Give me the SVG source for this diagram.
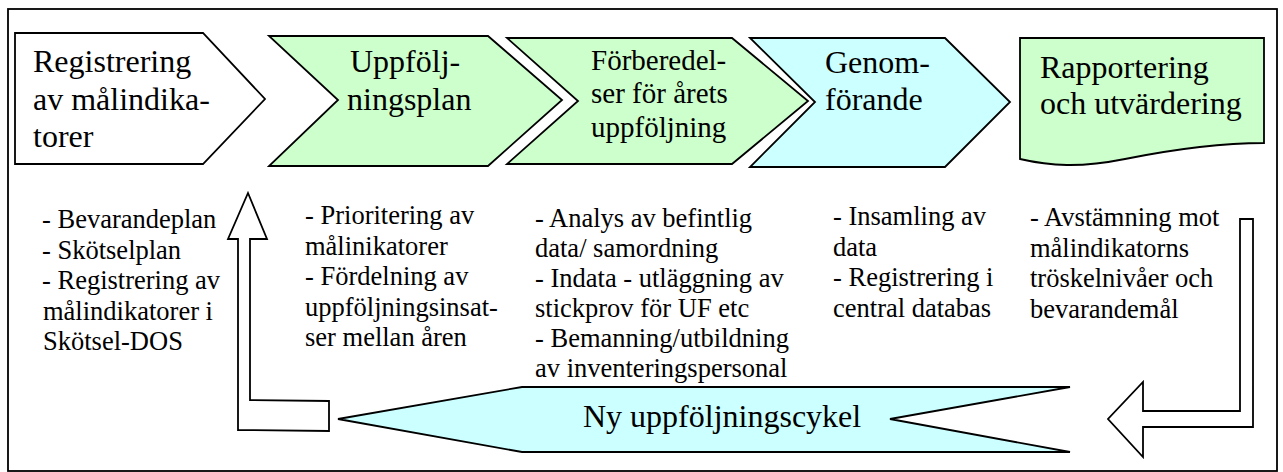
<svg xmlns="http://www.w3.org/2000/svg" width="1283" height="472" viewBox="0 0 1283 472">
<style>
.sh{stroke:#000;stroke-width:1.8;stroke-linejoin:miter}
.w{fill:#fff}.g{fill:#CCFFCC}.c{fill:#CCFFFF}
text{font-family:"Liberation Serif","Times New Roman",serif;fill:#000}
.t32{font-size:32px}.t29{font-size:29px}.t26{font-size:26.5px}
</style>
<rect x="8" y="9" width="1269" height="462" fill="#fff" stroke="#000" stroke-width="1.8"/>
<g id="n1">
<path class="sh w" d="M15,33 H203 L265,99 L203,164 H15 Z"/>
<text class="t32" x="33"><tspan x="33" y="72">Registrering</tspan><tspan x="33" y="110">av målindika-</tspan><tspan x="33" y="147">torer</tspan></text>
</g>
<g id="n2">
<path class="sh g" d="M269,36 H488 L562,100 L488,166 H269 L338,100 Z"/>
<text class="t32"><tspan x="350" y="72">Uppfölj-</tspan><tspan x="347" y="110">ningsplan</tspan></text>
</g>
<g id="n3">
<path class="sh g" d="M507,38 H732 L808,101 L732,164 H507 L578,101 Z"/>
<text class="t29"><tspan x="591" y="70">Förberedel-</tspan><tspan x="591" y="103">ser för årets</tspan><tspan x="591" y="137">uppföljning</tspan></text>
</g>
<g id="n4">
<path class="sh c" d="M750,38 H945 L1010,102 L945,167 H750 L815,102 Z"/>
<text class="t32"><tspan x="825" y="73">Genom-</tspan><tspan x="825" y="110">förande</tspan></text>
</g>
<g id="n5">
<path class="sh g" d="M1020,38 H1264 V143 C1215,143 1170,150 1125,159 C1080,168 1050,166 1020,159 Z"/>
<text class="t32"><tspan x="1040" y="78">Rapportering</tspan><tspan x="1040" y="114">och utvärdering</tspan></text>
</g>
<g id="n6">
<path class="sh c" d="M338,419 L522,387 H1070 L890,419 L1070,452 H522 Z"/>
<text class="t32" x="583" y="427">Ny uppföljningscykel</text>
</g>
<g id="col1">
<text class="t26"><tspan x="42" y="228">- Bevarandeplan</tspan><tspan x="42" y="258.5">- Skötselplan</tspan><tspan x="42" y="289">- Registrering av</tspan><tspan x="43" y="319.5">målindikatorer i</tspan><tspan x="43" y="350">Skötsel-DOS</tspan></text>
</g>
<g id="col2">
<text class="t26"><tspan x="305" y="224">- Prioritering av</tspan><tspan x="305" y="254.5">målinikatorer</tspan><tspan x="305" y="285">- Fördelning av</tspan><tspan x="305" y="315.5">uppföljningsinsat-</tspan><tspan x="305" y="346">ser mellan åren</tspan></text>
</g>
<g id="col3">
<text class="t26"><tspan x="535" y="226.5">- Analys av befintlig</tspan><tspan x="535" y="256.5">data/ samordning</tspan><tspan x="535" y="286.5">- Indata - utläggning av</tspan><tspan x="535" y="316.5">stickprov för UF etc</tspan><tspan x="535" y="346.5">- Bemanning/utbildning</tspan><tspan x="535" y="376.5">av inventeringspersonal</tspan></text>
</g>
<g id="col4">
<text class="t26"><tspan x="833" y="225">- Insamling av</tspan><tspan x="833" y="255.5">data</tspan><tspan x="833" y="286">- Registrering i</tspan><tspan x="833" y="316.5">central databas</tspan></text>
</g>
<g id="col5">
<text class="t26"><tspan x="1030" y="226">- Avstämning mot</tspan><tspan x="1030" y="256.5">målindikatorns</tspan><tspan x="1030" y="287">tröskelnivåer och</tspan><tspan x="1030" y="317.5">bevarandemål</tspan></text>
</g>
<g id="connectors">
<path class="sh w" d="M248,193 L267,239 L250,239 L250,400 L329,401 L329,431 L238,430 L238,239 L228,239 Z"/>
<path class="sh w" d="M1240,219 H1253 V427 H1143 V457 L1108,419 L1143,382 V411 H1240 Z"/>
</g>
</svg>
